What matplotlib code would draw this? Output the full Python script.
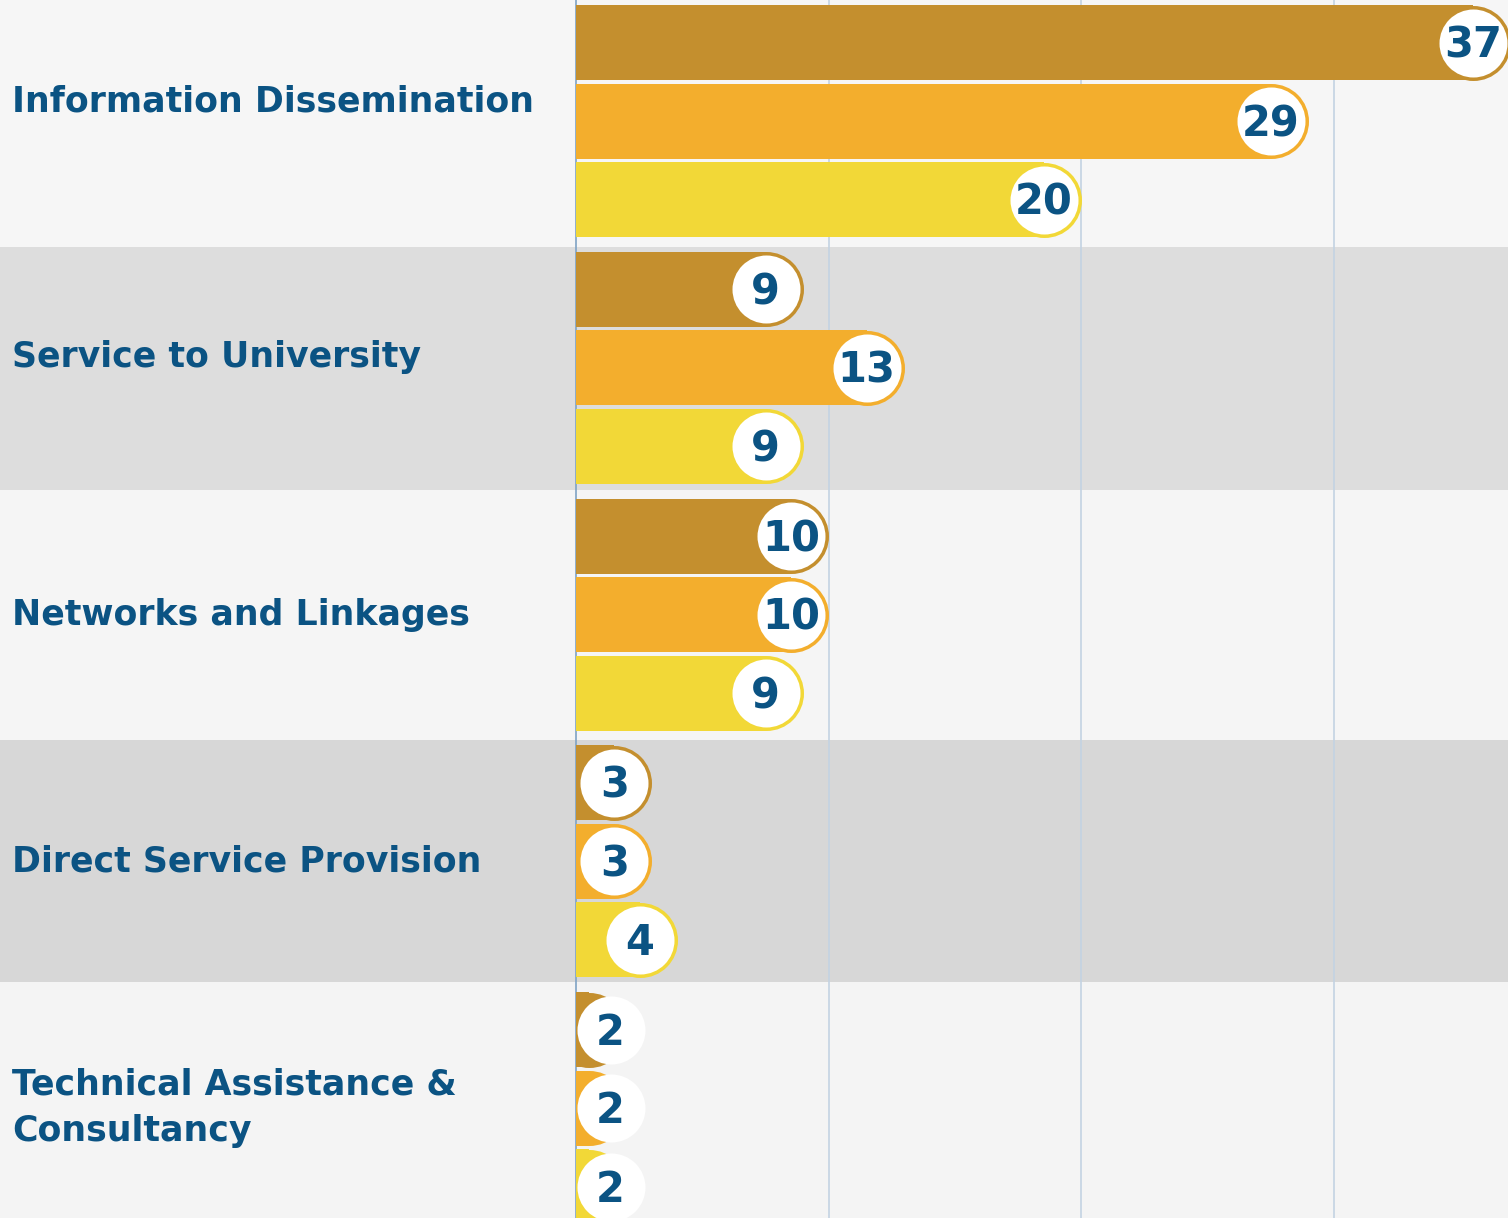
import matplotlib
matplotlib.use('Agg')
import matplotlib.pyplot as plt
import matplotlib.transforms as mtransforms
from matplotlib.patches import Rectangle

# ---- data ----
categories = ["Information Dissemination", "Service to University",
              "Networks and Linkages", "Direct Service Provision",
              "Technical Assistance &\nConsultancy"]
series_a = [37, 9, 10, 3, 2]
series_b = [29, 13, 10, 3, 2]
series_c = [20, 9, 9, 4, 2]
grid_ticks = [10, 20, 30]

# ---- style ----
bar_colors = ['#C48F2E', '#F3AE2D', '#F2D837']
text_color = '#0B5383'
band_colors = ['#f6f6f6', '#dddddd', '#f5f5f5', '#d7d7d7', '#f4f4f4']
grid_color = '#c3d3e2'
axis_color = '#7fa3c4'

W, H, DPI = 1508, 1218, 100
fig = plt.figure(figsize=(W / DPI, H / DPI), dpi=DPI)
ax = fig.add_axes([0, 0, 1, 1])

px_per_unit = 25.25
x0_px = 576
ax.set_xlim(-x0_px / px_per_unit, (W - x0_px) / px_per_unit)
group_px = 246.75
first_center = 121
ax.set_ylim((H - first_center) / group_px, -first_center / group_px)
ax.axis('off')

n = len(categories)
# background bands
band_edges = [-2, 0.51, 1.495, 2.51, 3.49, n + 2]
for i in range(n):
    ax.axhspan(band_edges[i], band_edges[i + 1], color=band_colors[i], lw=0, zorder=0)

ylo, yhi = -2, n + 2
ax.vlines(grid_ticks, ylo, yhi, color=grid_color, lw=1.2, zorder=1)
ax.vlines([0], ylo, yhi, color=axis_color, lw=1.2, zorder=1)

offsets = [-78.5 / group_px, 0, 78.5 / group_px]
bar_h = 75 / group_px
r_units = 37.5 / px_per_unit
r_white_units = 34.5 / px_per_unit
cap_pts = 75 * 72 / DPI
white_pts = 68 * 72 / DPI

clip_rect = Rectangle((0, -10), 200, 100, transform=ax.transData)

for s_idx, vals in enumerate([series_a, series_b, series_c]):
    col = bar_colors[s_idx]
    ys = [i + offsets[s_idx] for i in range(n)]
    body = [max(v - r_units, 0) for v in vals]
    ax.barh(ys, body, height=bar_h, left=0, color=col, lw=0, zorder=2)
    cap_x = [v - r_units for v in vals]
    sc = ax.scatter(cap_x, ys, s=cap_pts ** 2, color=col, lw=0, zorder=2)
    sc.set_clip_path(clip_rect)
    lab_x = [max(v - r_units, r_white_units) for v in vals]
    ax.scatter(lab_x, ys, s=white_pts ** 2, color='white', lw=0, zorder=3)
    for x, y, v in zip(lab_x, ys, vals):
        ax.text(x, y - 0.006, str(v), ha='center', va='center_baseline',
                fontsize=30, fontweight='bold', color=text_color,
                family='DejaVu Sans', zorder=4)

label_dy = [-0.08, -0.045, 0, 0, 0]
trans = mtransforms.blended_transform_factory(ax.transAxes, ax.transData)
for i, name in enumerate(categories):
    ax.text(12 / W, i + label_dy[i], name, transform=trans, ha='left',
            va='center', fontsize=25, fontweight='bold', color=text_color,
            family='DejaVu Sans', linespacing=1.45, zorder=4)

fig.savefig('out.png', dpi=DPI)
